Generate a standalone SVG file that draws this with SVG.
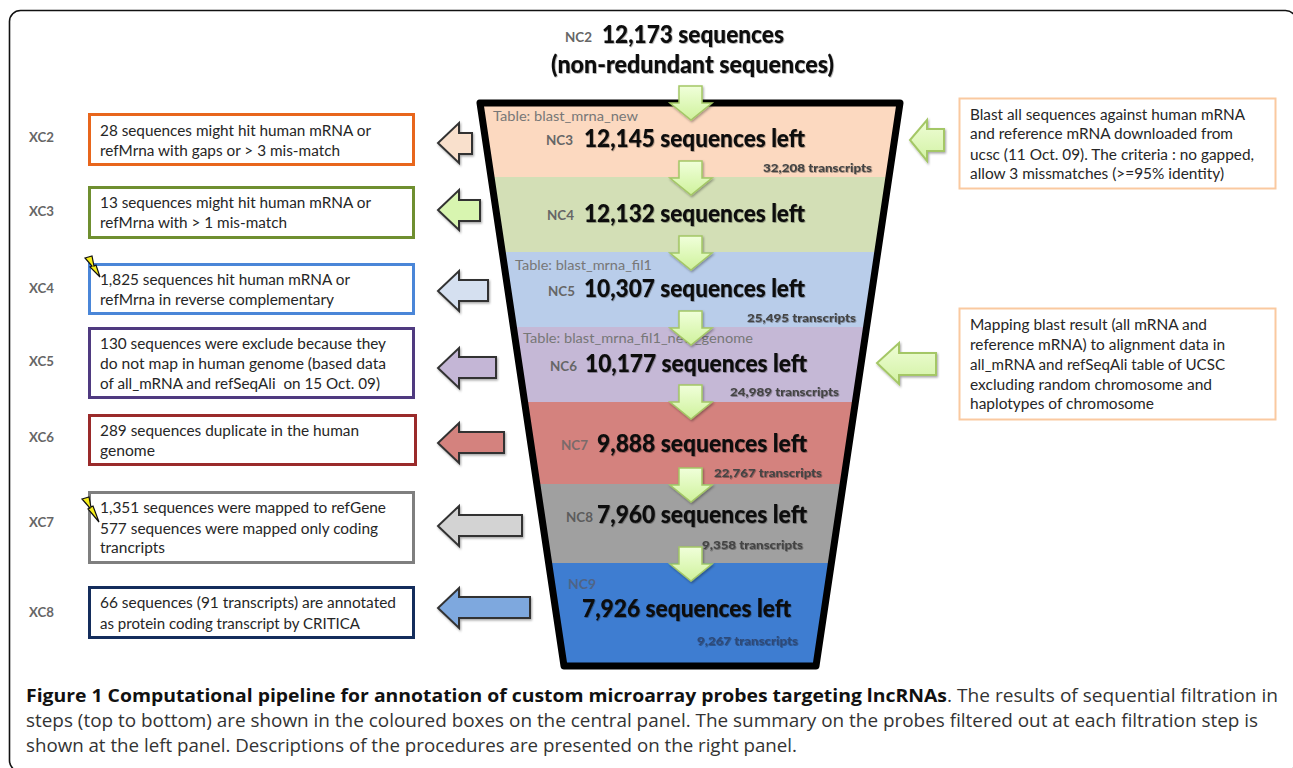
<svg xmlns="http://www.w3.org/2000/svg" width="1293" height="768" viewBox="0 0 1293 768">
<style>
text{font-family:Lato,"Liberation Sans",sans-serif}
.b{font-size:15.5px;fill:#262626}
.xc{font-size:14px;font-weight:700;fill:#666}
.nc{font-size:14px;font-weight:700;fill:#666}
.big{font-size:25px;font-weight:900;fill:#0a0a0a;filter:url(#ts)}
.tr{font-size:12px;font-weight:900;fill:#444;filter:url(#ts)}
.tb{font-size:14px;fill:#777}
.cap,.capb{font-family:"Open Sans","Liberation Sans",sans-serif;font-size:17.5px;fill:#333}
.capb{font-weight:700;fill:#111}
.box{fill:#fff;stroke-width:3}
.rb{fill:#fff;stroke:#fac9a0;stroke-width:2}
.da{fill:url(#gg);stroke:#a4c766;stroke-width:1.5;filter:url(#ds)}
.ra{fill:url(#gh);stroke:#a4c766;stroke-width:2;filter:url(#ds)}
.la{stroke:#333;stroke-width:2;filter:url(#ds)}
.bolt{fill:#f6ee1a;stroke:#111;stroke-width:1.2}
</style>
<defs>
<linearGradient id="gg" x1="0" y1="0" x2="0" y2="1"><stop offset="0" stop-color="#f0ffda"/><stop offset="1" stop-color="#cff29c"/></linearGradient>
<linearGradient id="gh" x1="0" y1="0" x2="0" y2="1"><stop offset="0" stop-color="#effdd6"/><stop offset="1" stop-color="#d2f2a4"/></linearGradient>
<filter id="ds" x="-20%" y="-20%" width="150%" height="150%"><feDropShadow dx="1" dy="1.5" stdDeviation="1.2" flood-color="#000" flood-opacity="0.35"/></filter>
<filter id="ts" x="-5%" y="-20%" width="110%" height="150%"><feDropShadow dx="0.7" dy="0.8" stdDeviation="0.7" flood-color="#000" flood-opacity="0.4"/></filter>
<clipPath id="fc"><polygon points="480,103 900,103 816,666 564,666"/></clipPath>
</defs>
<rect width="1293" height="768" fill="#fff"/>
<rect id="frame" x="9.5" y="10.5" width="1287" height="761" rx="11" fill="none" stroke="#111" stroke-width="1.6"/>

<g id="funnel">
<g clip-path="url(#fc)">
<rect x="470" y="100" width="440" height="77" fill="#fcd9c0"/>
<rect x="470" y="177" width="440" height="75" fill="#d3dfb6"/>
<rect x="470" y="252" width="440" height="75" fill="#b9cdea"/>
<rect x="470" y="327" width="440" height="75" fill="#c5b8d6"/>
<rect x="470" y="402" width="440" height="82" fill="#d4827e"/>
<rect x="470" y="484" width="440" height="79" fill="#a0a0a0"/>
<rect x="470" y="563" width="440" height="105" fill="#3e7dd1"/>
</g>
<polygon points="480,103 900,103 816,666 564,666" fill="none" stroke="#000" stroke-width="7" stroke-linejoin="round"/>
</g>

<g id="NC2">
<text class="nc" x="565" y="42" textLength="27" lengthAdjust="spacingAndGlyphs">NC2</text>
<text class="big" x="602" y="43" textLength="182" lengthAdjust="spacingAndGlyphs">12,173 sequences</text>
<text class="big" x="551" y="73" textLength="283" lengthAdjust="spacingAndGlyphs">(non-redundant sequences)</text>
</g>
<g id="NC3">
<text class="tb" x="493" y="121" textLength="145" lengthAdjust="spacingAndGlyphs">Table: blast_mrna_new</text>
<text class="nc" x="546" y="145" textLength="27" lengthAdjust="spacingAndGlyphs">NC3</text>
<text class="big" x="584" y="147" textLength="221" lengthAdjust="spacingAndGlyphs">12,145 sequences left</text>
<text class="tr" x="763" y="172" textLength="109" lengthAdjust="spacingAndGlyphs">32,208 transcripts</text>
</g>
<g id="NC4">
<text class="nc" x="547" y="220" textLength="27" lengthAdjust="spacingAndGlyphs">NC4</text>
<text class="big" x="584" y="222" textLength="221" lengthAdjust="spacingAndGlyphs">12,132 sequences left</text>
</g>
<g id="NC5">
<text class="tb" x="515" y="270" textLength="137" lengthAdjust="spacingAndGlyphs">Table: blast_mrna_fil1</text>
<text class="nc" x="548" y="296" textLength="27" lengthAdjust="spacingAndGlyphs">NC5</text>
<text class="big" x="584" y="297" textLength="221" lengthAdjust="spacingAndGlyphs">10,307 sequences left</text>
<text class="tr" x="747" y="322" textLength="109" lengthAdjust="spacingAndGlyphs">25,495 transcripts</text>
</g>
<g id="NC6">
<text class="tb" x="523" y="343" textLength="230" lengthAdjust="spacingAndGlyphs">Table: blast_mrna_fil1_new_genome</text>
<text class="nc" x="550" y="371" textLength="27" lengthAdjust="spacingAndGlyphs">NC6</text>
<text class="big" x="585" y="372" textLength="222" lengthAdjust="spacingAndGlyphs">10,177 sequences left</text>
<text class="tr" x="730" y="396" textLength="109" lengthAdjust="spacingAndGlyphs">24,989 transcripts</text>
</g>
<g id="NC7">
<text class="nc" x="561" y="450" textLength="27" lengthAdjust="spacingAndGlyphs" style="fill:#7a6a6a">NC7</text>
<text class="big" x="597" y="452" textLength="210" lengthAdjust="spacingAndGlyphs">9,888 sequences left</text>
<text class="tr" x="714" y="477" textLength="108" lengthAdjust="spacingAndGlyphs">22,767 transcripts</text>
</g>
<g id="NC8">
<text class="nc" x="566" y="522" textLength="27" lengthAdjust="spacingAndGlyphs" style="fill:#5c5c5c">NC8</text>
<text class="big" x="597" y="523" textLength="210" lengthAdjust="spacingAndGlyphs">7,960 sequences left</text>
<text class="tr" x="702" y="549" textLength="101" lengthAdjust="spacingAndGlyphs">9,358 transcripts</text>
</g>
<g id="NC9">
<text class="nc" x="568" y="589" textLength="28" lengthAdjust="spacingAndGlyphs" style="fill:#4f6486">NC9</text>
<text class="big" x="582" y="617" textLength="209" lengthAdjust="spacingAndGlyphs">7,926 sequences left</text>
<text class="tr" x="697" y="645" textLength="101" lengthAdjust="spacingAndGlyphs" style="fill:#2e4a78">9,267 transcripts</text>
</g>

<g id="XC2">
<text class="xc" x="29" y="142" textLength="25" lengthAdjust="spacingAndGlyphs">XC2</text>
<rect class="box" x="89.5" y="114.5" width="324" height="50" stroke="#e8661c"/>
<text class="b" x="100" y="136" textLength="271" lengthAdjust="spacingAndGlyphs">28 sequences might hit human mRNA or</text>
<text class="b" x="100" y="155.500" textLength="240" lengthAdjust="spacingAndGlyphs">refMrna with gaps or &gt; 3 mis-match</text>
</g>
<g id="XC3">
<text class="xc" x="29" y="216" textLength="25" lengthAdjust="spacingAndGlyphs">XC3</text>
<rect class="box" x="89.5" y="187.500" width="324" height="50" stroke="#6f8f30"/>
<text class="b" x="100" y="208" textLength="271" lengthAdjust="spacingAndGlyphs">13 sequences might hit human mRNA or</text>
<text class="b" x="100" y="228" textLength="187" lengthAdjust="spacingAndGlyphs">refMrna with &gt; 1 mis-match</text>
</g>
<g id="XC4">
<text class="xc" x="29" y="293" textLength="25" lengthAdjust="spacingAndGlyphs">XC4</text>
<rect class="box" x="89.5" y="264.500" width="324" height="49" stroke="#4a86d8"/>
<text class="b" x="100" y="285" textLength="250" lengthAdjust="spacingAndGlyphs">1,825 sequences hit human mRNA or</text>
<text class="b" x="100" y="304.500" textLength="234" lengthAdjust="spacingAndGlyphs">refMrna in reverse complementary</text>
<polygon class="bolt" points="85,258 92,256 94,266 96,265 100,277 90,267 92,266"/>
</g>
<g id="XC5">
<text class="xc" x="29" y="366" textLength="25" lengthAdjust="spacingAndGlyphs">XC5</text>
<rect class="box" x="89.5" y="328.500" width="324" height="69" stroke="#4f3a80"/>
<text class="b" x="100" y="349" textLength="286" lengthAdjust="spacingAndGlyphs">130 sequences were exclude because they</text>
<text class="b" x="100" y="369" textLength="286" lengthAdjust="spacingAndGlyphs">do not map in human genome (based data</text>
<text class="b" x="100" y="389" textLength="280" lengthAdjust="spacingAndGlyphs" xml:space="preserve">of all_mRNA and refSeqAli  on 15 Oct. 09)</text>
</g>
<g id="XC6">
<text class="xc" x="29" y="442" textLength="25" lengthAdjust="spacingAndGlyphs">XC6</text>
<rect class="box" x="89.5" y="415.500" width="326" height="49" stroke="#9a2a2a"/>
<text class="b" x="100" y="436" textLength="259" lengthAdjust="spacingAndGlyphs">289 sequences duplicate in the human</text>
<text class="b" x="100" y="456" textLength="55" lengthAdjust="spacingAndGlyphs">genome</text>
</g>
<g id="XC7">
<text class="xc" x="29" y="527" textLength="25" lengthAdjust="spacingAndGlyphs">XC7</text>
<rect class="box" x="89.5" y="492.500" width="324" height="70" stroke="#7f7f7f"/>
<text class="b" x="100" y="513" textLength="286" lengthAdjust="spacingAndGlyphs">1,351 sequences were mapped to refGene</text>
<text class="b" x="100" y="534" textLength="278" lengthAdjust="spacingAndGlyphs">577 sequences were mapped only coding</text>
<text class="b" x="100" y="553" textLength="65" lengthAdjust="spacingAndGlyphs">trancripts</text>
<polygon class="bolt" points="82,499 89,497 91,507 93,506 99,522 88,509 90,508"/>
</g>
<g id="XC8">
<text class="xc" x="29" y="617" textLength="25" lengthAdjust="spacingAndGlyphs">XC8</text>
<rect class="box" x="89.5" y="587.500" width="324" height="50" stroke="#142d5c"/>
<text class="b" x="100" y="608" textLength="296" lengthAdjust="spacingAndGlyphs">66 sequences (91 transcripts) are annotated</text>
<text class="b" x="100" y="629" textLength="260" lengthAdjust="spacingAndGlyphs">as protein coding transcript by CRITICA</text>
</g>

<g id="R1">
<rect class="rb" x="959.500" y="98.500" width="316" height="90"/>
<text class="b" x="970" y="120" textLength="275" lengthAdjust="spacingAndGlyphs">Blast all sequences against human mRNA</text>
<text class="b" x="970" y="139" textLength="263" lengthAdjust="spacingAndGlyphs">and reference mRNA downloaded from</text>
<text class="b" x="970" y="160" textLength="284" lengthAdjust="spacingAndGlyphs">ucsc (11 Oct. 09). The criteria : no gapped,</text>
<text class="b" x="970" y="179" textLength="254" lengthAdjust="spacingAndGlyphs">allow 3 missmatches (&gt;=95% identity)</text>
</g>
<g id="R2">
<rect class="rb" x="959.500" y="308.500" width="316" height="111"/>
<text class="b" x="970" y="330" textLength="237" lengthAdjust="spacingAndGlyphs">Mapping blast result (all mRNA and</text>
<text class="b" x="970" y="350" textLength="255" lengthAdjust="spacingAndGlyphs">reference mRNA) to alignment data in</text>
<text class="b" x="970" y="370" textLength="255" lengthAdjust="spacingAndGlyphs">all_mRNA and refSeqAli table of UCSC</text>
<text class="b" x="970" y="390" textLength="242" lengthAdjust="spacingAndGlyphs">excluding random chromosome and</text>
<text class="b" x="970" y="409" textLength="184" lengthAdjust="spacingAndGlyphs">haplotypes of chromosome</text>
</g>

<g id="connectors">
<polygon class="da" points="679,86 702,86 702,103 712,103 691,120 670,103 679,103"/>
<polygon class="da" points="679,161 702,161 702,178 712,178 691,195 670,178 679,178"/>
<polygon class="da" points="679,236 702,236 702,253 712,253 691,270 670,253 679,253"/>
<polygon class="da" points="679,311 702,311 702,328 712,328 691,345 670,328 679,328"/>
<polygon class="da" points="679,385 702,385 702,402 712,402 691,419 670,402 679,402"/>
<polygon class="da" points="679,468 702,468 702,485 712,485 691,502 670,485 679,485"/>
<polygon class="da" points="679,547 702,547 702,564 712,564 691,581 670,564 679,564"/>

<polygon class="la" fill="#f9e0cc" points="472,133 472,154 459,154 459,163 438,143 459,123 459,133"/>
<polygon class="la" fill="#d8f5b0" points="480,200 480,221 459,221 459,230 438,210 459,190 459,200"/>
<polygon class="la" fill="#d5e0f0" points="488,280 488,301 459,301 459,311 438,291 459,271 459,280"/>
<polygon class="la" fill="#c4b6d6" points="496,357 496,378 459,378 459,388 438,368 459,348 459,357"/>
<polygon class="la" fill="#d4827e" points="504,432 504,453 459,453 459,463 438,443 459,423 459,432"/>
<polygon class="la" fill="#d3d3d3" points="522,515 522,536 459,536 459,546 438,526 459,506 459,515"/>
<polygon class="la" fill="#7ea8de" points="530,597 530,618 459,618 459,628 438,608 459,588 459,597"/>

<polygon class="ra" points="944,129 944,151 927,151 927,161 910,140 927,120 927,129"/>
<polygon class="ra" points="936,353 936,375 899,375 899,384 877,363 899,343 899,353"/>
</g>

<g id="caption">
<text class="capb" x="26" y="702" textLength="921" lengthAdjust="spacingAndGlyphs">Figure 1 Computational pipeline for annotation of custom microarray probes targeting lncRNAs</text>
<text class="cap" x="947" y="702" textLength="331" lengthAdjust="spacingAndGlyphs">. The results of sequential filtration in</text>
<text class="cap" x="26" y="727" textLength="1232" lengthAdjust="spacingAndGlyphs">steps (top to bottom) are shown in the coloured boxes on the central panel. The summary on the probes filtered out at each filtration step is</text>
<text class="cap" x="26" y="752" textLength="771" lengthAdjust="spacingAndGlyphs">shown at the left panel. Descriptions of the procedures are presented on the right panel.</text>
</g>
</svg>
